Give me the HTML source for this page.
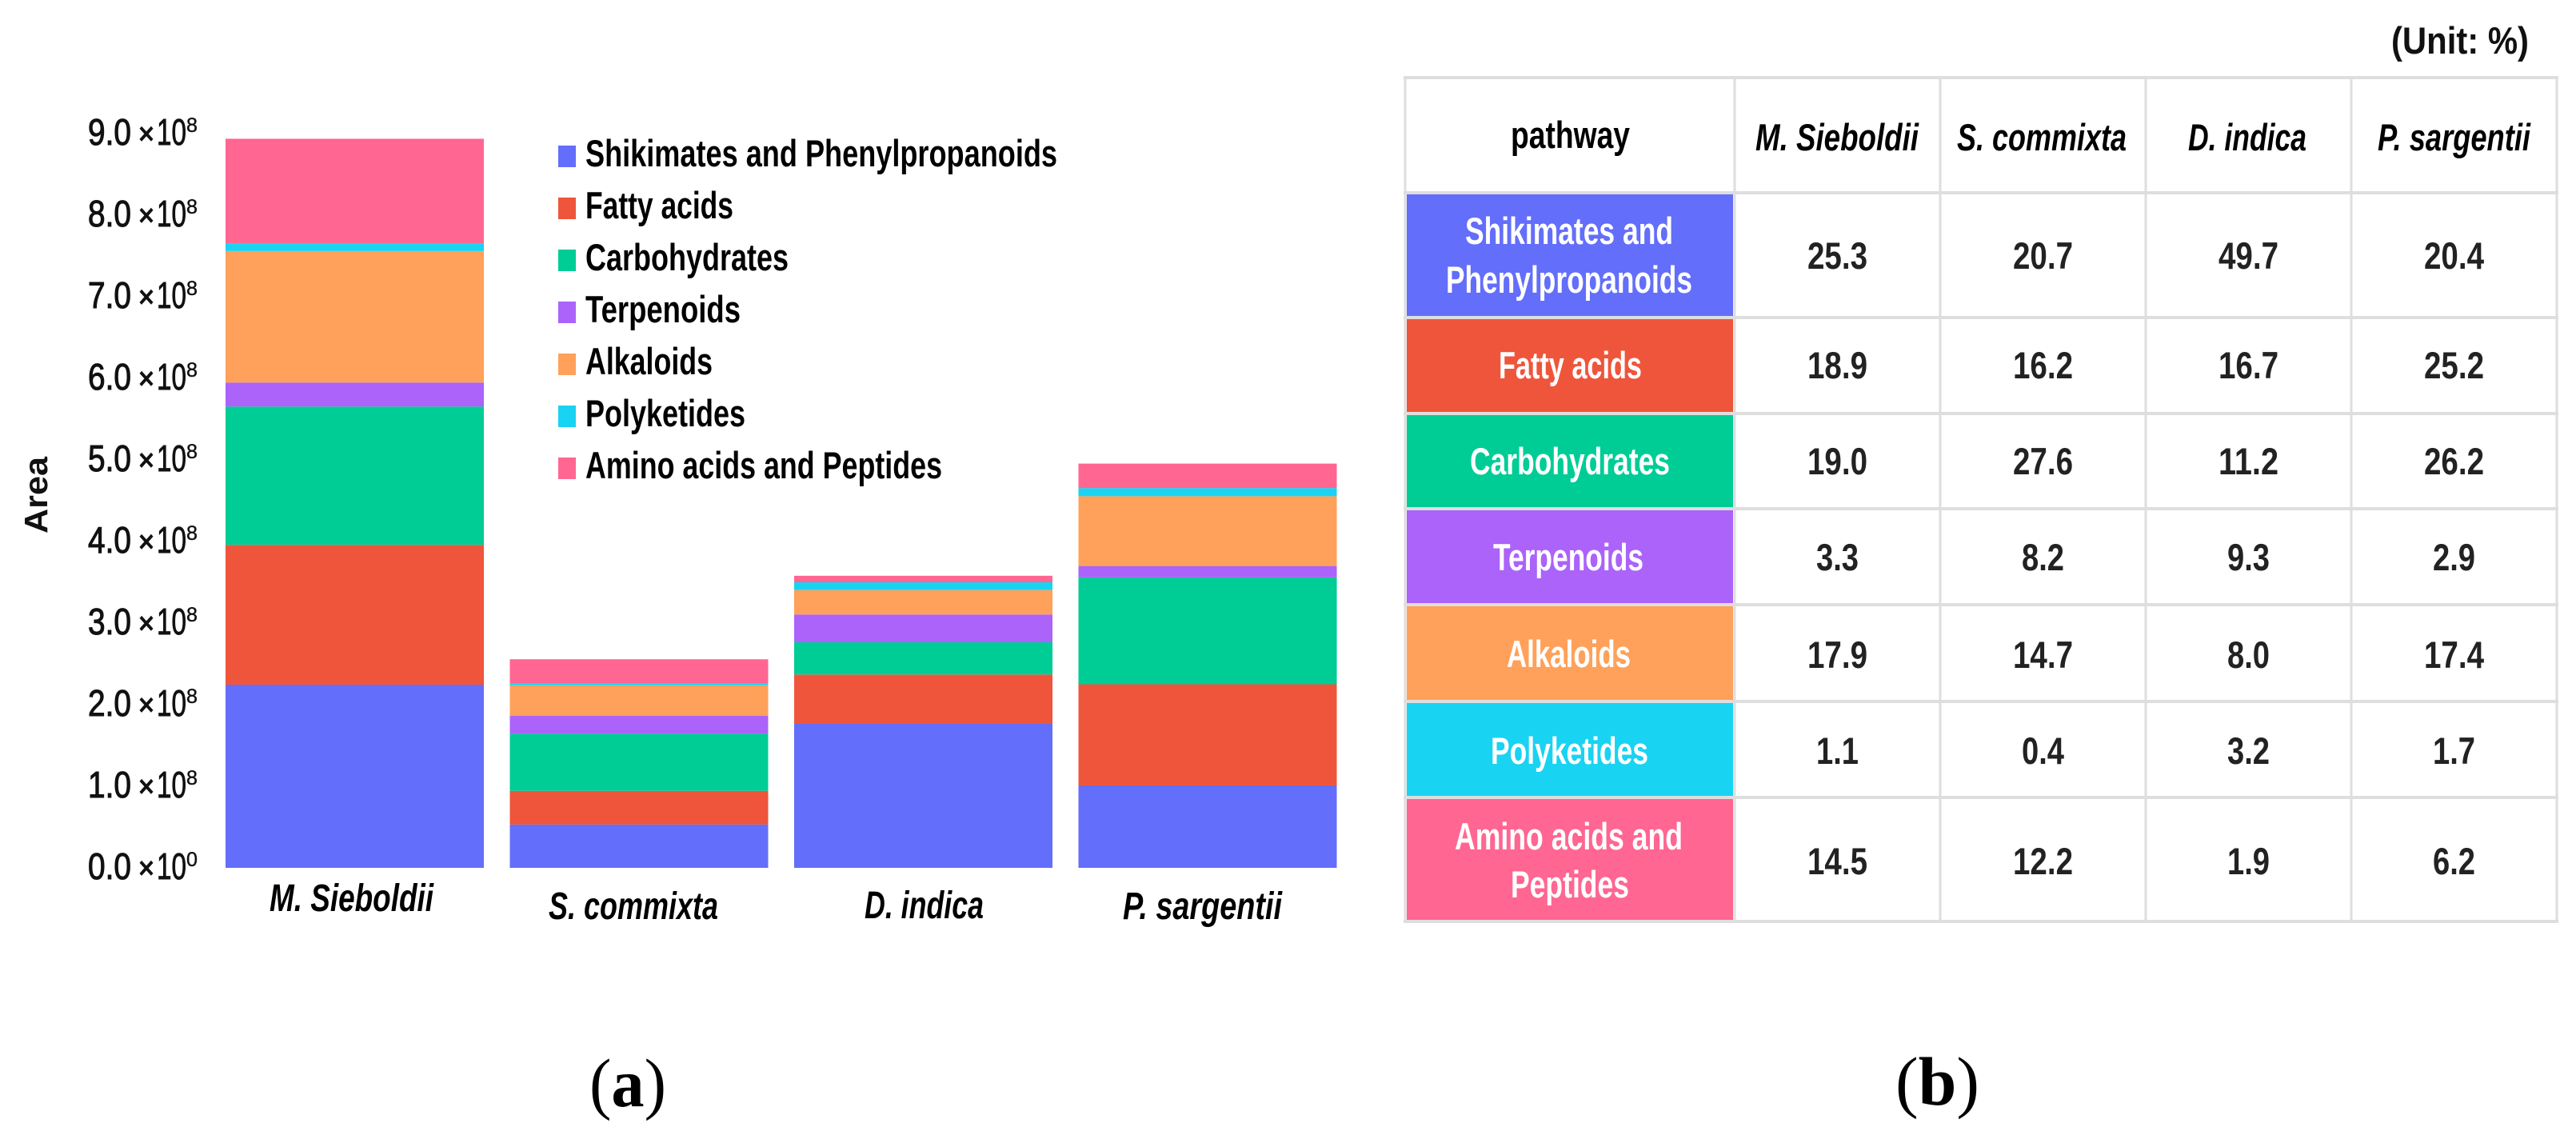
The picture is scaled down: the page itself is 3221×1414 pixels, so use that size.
<!DOCTYPE html>
<html lang="en">
<head>
<meta charset="utf-8">
<title>Stacked area by pathway and pathway percentage table</title>
<style>
  html, body { margin: 0; padding: 0; background: #ffffff; }
  svg { display: block; }
  text { font-family: "Liberation Sans", "DejaVu Sans", sans-serif; }
  .serif { font-family: "Liberation Serif", serif; }
</style>
</head>
<body>
<svg id="figure" xmlns="http://www.w3.org/2000/svg" width="3221" height="1414" viewBox="0 0 3221 1414">
  <rect x="0" y="0" width="3221" height="1414" fill="#ffffff"/>
  <g id="chart"></g>
  <g id="legend"></g>
  <g id="table"></g>
  <text transform="translate(59,667) rotate(-90)" font-size="41" font-weight="bold" fill="#111" textLength="96" lengthAdjust="spacingAndGlyphs">Area</text>
  <text x="2990" y="67" font-size="47" font-weight="bold" fill="#111" textLength="172" lengthAdjust="spacingAndGlyphs">(Unit: %)</text>
  <text class="serif" x="737" y="1383" font-size="86" fill="#000" textLength="96" lengthAdjust="spacingAndGlyphs">(<tspan font-weight="bold">a</tspan>)</text>
  <text class="serif" x="2370" y="1381" font-size="86" fill="#000" textLength="105" lengthAdjust="spacingAndGlyphs">(<tspan font-weight="bold">b</tspan>)</text>
</svg>
<script>
// ---- chart data (values in units of 10^8) ----
const species = ["M. Sieboldii", "S. commixta", "D. indica", "P. sargentii"];
const pathways = ["Shikimates and Phenylpropanoids", "Fatty acids", "Carbohydrates", "Terpenoids", "Alkaloids", "Polyketides", "Amino acids and Peptides"];
const shikimates = [2.245, 0.531, 1.77, 1.01];
const fattyAcids = [1.714, 0.4125, 0.60, 1.24];
const carbohydrates = [1.695, 0.70, 0.395, 1.31];
const terpenoids = [0.294, 0.219, 0.34, 0.14];
const alkaloids = [1.613, 0.375, 0.30, 0.855];
const polyketides = [0.0875, 0.019, 0.095, 0.10];
const aminoAcids = [1.288, 0.30, 0.08, 0.30];
const tickValues = [0, 1, 2, 3, 4, 5, 6, 7, 8, 9];
const tickLabels = ["0.0", "1.0", "2.0", "3.0", "4.0", "5.0", "6.0", "7.0", "8.0", "9.0"];
const tickExponents = ["0", "8", "8", "8", "8", "8", "8", "8", "8", "8"];

// ---- table data (percent) ----
const shikimatesPct = ["25.3", "20.7", "49.7", "20.4"];
const fattyAcidsPct = ["18.9", "16.2", "16.7", "25.2"];
const carbohydratesPct = ["19.0", "27.6", "11.2", "26.2"];
const terpenoidsPct = ["3.3", "8.2", "9.3", "2.9"];
const alkaloidsPct = ["17.9", "14.7", "8.0", "17.4"];
const polyketidesPct = ["1.1", "0.4", "3.2", "1.7"];
const aminoAcidsPct = ["14.5", "12.2", "1.9", "6.2"];

const seriesValues = [shikimates, fattyAcids, carbohydrates, terpenoids, alkaloids, polyketides, aminoAcids];
const tableValues = [shikimatesPct, fattyAcidsPct, carbohydratesPct, terpenoidsPct, alkaloidsPct, polyketidesPct, aminoAcidsPct];
const colors = ["#636EFA", "#EF553B", "#00CC96", "#AB63FA", "#FFA15A", "#19D3F3", "#FF6692"];

const NS = "http://www.w3.org/2000/svg";
const chart = document.getElementById("chart");
const legend = document.getElementById("legend");
const table = document.getElementById("table");

// axis functions
function yScale(v) { return 1085 - v * 102; }
function tickBaseline(v) { return 1099 - v * 102; }
function band(i) { return 282 + i * 355.5; }
const barWidth = 323;

function makeRect(x, y, w, h, fill) {
  const r = document.createElementNS(NS, "rect");
  r.setAttribute("x", x);
  r.setAttribute("y", y);
  r.setAttribute("width", w);
  r.setAttribute("height", h);
  r.setAttribute("fill", fill);
  return r;
}
function makeText(str, x, y, size, weight, fill, width, italic) {
  const t = document.createElementNS(NS, "text");
  t.textContent = str;
  t.setAttribute("x", x);
  t.setAttribute("y", y);
  t.setAttribute("font-size", size);
  t.setAttribute("font-weight", weight);
  t.setAttribute("fill", fill);
  if (width) {
    t.setAttribute("textLength", width);
    t.setAttribute("lengthAdjust", "spacingAndGlyphs");
  }
  if (italic) t.setAttribute("font-style", "italic");
  return t;
}

// y tick labels
tickValues.forEach(function (v, i) {
  const y = tickBaseline(v);
  const mant = makeText(tickLabels[i], 110, y, 46, "normal", "#111", 54);
  mant.setAttribute("stroke", "#111");
  mant.setAttribute("stroke-width", "1.1");
  
  
  chart.appendChild(mant);
  const times = makeText("\u00D7", 173, y - 1, 38, "bold", "#111", 20);
  
  
  chart.appendChild(times);
  const ten = makeText("10", 196, y, 46, "normal", "#111", 37);
  ten.setAttribute("stroke", "#111");
  ten.setAttribute("stroke-width", "0.9");
  
  
  chart.appendChild(ten);
  const sup = makeText(tickExponents[i], 233, y - 16, 25, "normal", "#111", 14);
  sup.setAttribute("stroke", "#111");
  sup.setAttribute("stroke-width", "0.4");
  
  
  chart.appendChild(sup);
});

// stacked bars
species.forEach(function (name, i) {
  let cum = 0;
  seriesValues.forEach(function (vals, s) {
    const top = yScale(cum + vals[i]);
    const bottom = yScale(cum);
    const seg = makeRect(band(i), top, barWidth, bottom - top, colors[s]);
    
    
    chart.appendChild(seg);
    cum += vals[i];
  });
});

// x labels (placed individually as in the source figure)
const xLabelStart = [337, 686, 1081, 1404];
const xLabelWidth = [205, 212, 149, 199];
const xLabelBase = [1139, 1149, 1148, 1149];
species.forEach(function (name, i) {
  const t = makeText(name, xLabelStart[i], xLabelBase[i], 48, "bold", "#000", xLabelWidth[i], true);
  
  
  chart.appendChild(t);
});

// legend
const legendWidths = [590, 185, 254, 194, 159, 200, 446];
pathways.forEach(function (name, i) {
  const sw = makeRect(698, 182 + i * 65, 22, 27, colors[i]);
  
  
  legend.appendChild(sw);
  const t = makeText(name, 732, 208 + i * 65, 47, "bold", "#000", legendWidths[i]);
  
  
  legend.appendChild(t);
});

// table geometry
const colLines = [1757, 2169, 2426, 2683, 2940, 3197];
const rowLines = [97, 241, 397, 517, 636, 756, 877, 997, 1152];
const gridColor = "#dedede";

// first-column coloured cells
colors.forEach(function (c, i) {
  const cell = makeRect(1759, rowLines[i + 1] + 2, 408, rowLines[i + 2] - rowLines[i + 1] - 4, c);
  
  
  table.appendChild(cell);
});

// grid lines
rowLines.forEach(function (y) {
  const l = makeRect(1755, y - 2, 3197 - 1755 + 2, 4, gridColor);
  
  
  table.insertBefore(l, table.firstChild);
});
colLines.forEach(function (x) {
  const l = makeRect(x - 1.5, 97, 3, 1055, gridColor);
  
  
  table.insertBefore(l, table.firstChild);
});

// table header
const headPath = makeText("pathway", 1889, 185, 47, "bold", "#000", 149);


table.appendChild(headPath);
const headStart = [2195, 2447, 2736, 2973];
const headWidth = [204, 212, 148, 191];
species.forEach(function (name, i) {
  const t = makeText(name, headStart[i], 188, 47, "bold", "#000", headWidth[i], true);
  
  
  table.appendChild(t);
});

// row header text
const rowLabelLines = [
  ["Shikimates and", "Phenylpropanoids"],
  ["Fatty acids"],
  ["Carbohydrates"],
  ["Terpenoids"],
  ["Alkaloids"],
  ["Polyketides"],
  ["Amino acids and", "Peptides"]
];
const rowLabelBase = [[305, 366], [473], [593], [713], [834], [955], [1062, 1122]];
const rowLabelStart = [[1832, 1808], [1874], [1838], [1867], [1884], [1864], [1819, 1889]];
const rowLabelWidth = [[260, 308], [179], [250], [188], [155], [197], [285, 148]];
rowLabelLines.forEach(function (lines, i) {
  lines.forEach(function (str, j) {
    const t = makeText(str, rowLabelStart[i][j], rowLabelBase[i][j], 47, "bold", "#ffffff", rowLabelWidth[i][j]);
    
    
    table.appendChild(t);
  });
});

// numeric cells
const numBase = [336, 473, 593, 713, 835, 955, 1093];
tableValues.forEach(function (row, r) {
  row.forEach(function (str, c) {
    const w = (str.length - 1) * 22 + 9;
    const cx = (colLines[c + 1] + colLines[c + 2]) / 2;
    const t = makeText(str, cx - w / 2, numBase[r], 47, "bold", "#222", w);
    
    
    table.appendChild(t);
  });
});
</script>
</body>
</html>
